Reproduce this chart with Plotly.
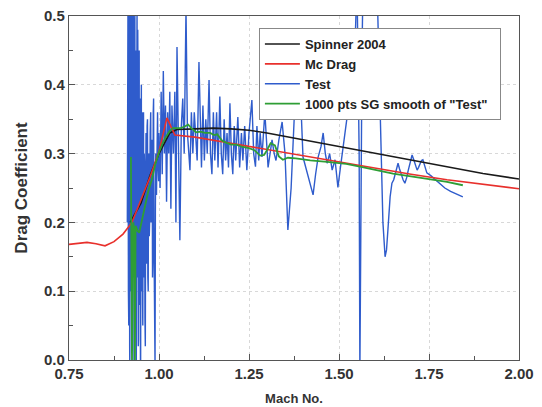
import plotly.graph_objects as go

# ---- data ----
spinner_mach = [0.92, 0.95, 0.975, 1.0, 1.03, 1.05, 1.10, 1.15, 1.20, 1.25, 1.30, 1.40, 1.50, 1.60, 1.70, 1.80, 1.90, 2.00]
spinner_cd = [0.200, 0.228, 0.268, 0.300, 0.330, 0.335, 0.336, 0.337, 0.336, 0.334, 0.330, 0.320, 0.310, 0.300, 0.290, 0.280, 0.271, 0.263]

mcdrag_mach = [0.75, 0.775, 0.80, 0.825, 0.85, 0.875, 0.90, 0.925, 0.95, 0.975, 1.0, 1.022, 1.044, 1.06, 1.10, 1.20, 1.30, 1.40, 1.50, 1.60, 1.70, 1.80, 1.90, 2.00]
mcdrag_cd = [0.168, 0.170, 0.171, 0.169, 0.166, 0.172, 0.183, 0.200, 0.232, 0.266, 0.303, 0.352, 0.327, 0.326, 0.324, 0.315, 0.306, 0.296, 0.287, 0.278, 0.270, 0.262, 0.255, 0.249]

test_mach = [
    0.912, 0.913, 0.914, 0.915, 0.916, 0.917, 0.918, 0.9185, 0.919, 0.920, 0.921, 0.9215, 0.922, 0.923,
    0.924, 0.9245, 0.925, 0.926, 0.927, 0.9275, 0.928, 0.929, 0.930, 0.9305, 0.931, 0.932, 0.933, 0.9335,
    0.934, 0.935, 0.936, 0.9365, 0.937, 0.938, 0.939, 0.9395, 0.940, 0.941, 0.942, 0.9425, 0.943, 0.944,
    0.945, 0.9455, 0.946, 0.947, 0.948, 0.9485, 0.949, 0.950, 0.951, 0.9515, 0.952, 0.953, 0.954, 0.9545,
    0.955, 0.956, 0.957, 0.9575, 0.958, 0.959, 0.960, 0.961, 0.962, 0.963, 0.964, 0.965, 0.966, 0.967,
    0.968, 0.969, 0.970, 0.971, 0.972, 0.973, 0.974, 0.9755, 0.977, 0.978, 0.979, 0.980, 0.981, 0.982,
    0.983, 0.984, 0.985, 0.986, 0.987, 0.988, 0.989, 0.990, 0.991, 0.992, 0.993, 0.9945, 0.996, 0.9975, 0.999,
    1.000, 1.003, 1.006, 1.009, 1.012, 1.015, 1.018, 1.021, 1.024, 1.027, 1.030, 1.033, 1.036, 1.040,
    1.044, 1.047, 1.050, 1.054, 1.058, 1.062, 1.066, 1.070, 1.075, 1.079, 1.083, 1.086, 1.090, 1.094,
    1.098, 1.102, 1.106, 1.111, 1.115, 1.118, 1.122, 1.126, 1.130, 1.134, 1.139, 1.143, 1.147, 1.151,
    1.155, 1.160, 1.164, 1.169, 1.173, 1.177, 1.181, 1.185, 1.189, 1.193, 1.197, 1.201, 1.205, 1.209,
    1.213, 1.219, 1.224, 1.229, 1.233, 1.238, 1.244, 1.250, 1.258, 1.263, 1.268, 1.272, 1.277, 1.281,
    1.286, 1.294, 1.303, 1.308, 1.314, 1.320, 1.325, 1.333, 1.342, 1.350, 1.358, 1.367, 1.378, 1.386,
    1.392, 1.400, 1.411, 1.419, 1.428, 1.435, 1.442, 1.450, 1.456, 1.462, 1.467, 1.474, 1.481, 1.489,
    1.497, 1.504, 1.511, 1.518, 1.525, 1.536, 1.544, 1.550, 1.556, 1.558, 1.561, 1.564, 1.567, 1.585,
    1.605, 1.608, 1.614, 1.622, 1.628, 1.632, 1.636, 1.642, 1.647, 1.652, 1.656, 1.660, 1.664, 1.668,
    1.672, 1.678, 1.683, 1.688, 1.692, 1.698, 1.703, 1.707, 1.711, 1.717, 1.721, 1.725, 1.729, 1.733,
    1.738, 1.744, 1.755, 1.767, 1.780, 1.794, 1.810, 1.828, 1.844]
test_cd = [
    0.20, 0.40, 0.55, 0.10, 0.05, 0.52, 0.45, 0.02, -0.02, 0.48, 0.52, 0.20, 0.10, 0.55,
    0.48, 0.05, 0.02, 0.40, 0.55, 0.12, 0.15, 0.50, 0.42, 0.00, -0.02, 0.35, 0.50, 0.15,
    0.08, 0.45, 0.38, 0.05, 0.00, 0.30, 0.52, 0.18, 0.12, 0.48, 0.35, 0.02, 0.03, 0.40,
    0.45, 0.08, 0.10, 0.38, 0.33, 0.00, -0.01, 0.30, 0.40, 0.10, 0.15, 0.36, 0.30, 0.08,
    0.05, 0.32, 0.36, 0.15, 0.12, 0.30, 0.28, 0.06, 0.02, 0.25, 0.33, 0.14, 0.18, 0.34,
    0.35, 0.12, 0.10, 0.28, 0.30, 0.18, 0.20, 0.33, 0.36, 0.20, 0.22, 0.30, 0.32, 0.12,
    0.15, 0.36, 0.38, 0.18, 0.05, 0.10, -0.01, 0.22, 0.30, 0.28, 0.24, 0.34, 0.36, 0.28, 0.26,
    0.33, 0.25, 0.39, 0.27, 0.42, 0.30, 0.37, 0.23, 0.36, 0.30, 0.39, 0.22, 0.37, 0.30,
    0.39, 0.20, 0.455, 0.32, 0.174, 0.34, 0.38, 0.30, 0.51, 0.33, 0.29, 0.276, 0.36, 0.30,
    0.36, 0.32, 0.29, 0.433, 0.33, 0.28, 0.37, 0.29, 0.35, 0.30, 0.407, 0.30, 0.27, 0.36,
    0.29, 0.36, 0.28, 0.383, 0.30, 0.27, 0.35, 0.29, 0.33, 0.28, 0.373, 0.30, 0.27, 0.34,
    0.29, 0.353, 0.28, 0.33, 0.29, 0.34, 0.276, 0.33, 0.378, 0.30, 0.281, 0.34, 0.29, 0.33,
    0.295, 0.360, 0.280, 0.300, 0.320, 0.300, 0.290, 0.320, 0.346, 0.300, 0.189, 0.250, 0.380, 0.420,
    0.400, 0.295, 0.272, 0.257, 0.240, 0.270, 0.295, 0.310, 0.330, 0.300, 0.286, 0.300, 0.276, 0.291,
    0.251, 0.280, 0.310, 0.340, 0.363, 0.378, 0.450, 0.550, 0.300, -0.020, 0.300, 0.450, 0.560, 0.600,
    0.560, 0.500, 0.350, 0.200, 0.150, 0.160, 0.190, 0.237, 0.257, 0.262, 0.270, 0.280, 0.286, 0.278,
    0.270, 0.262, 0.257, 0.265, 0.275, 0.290, 0.298, 0.292, 0.285, 0.276, 0.280, 0.285, 0.290, 0.291,
    0.283, 0.272, 0.268, 0.262, 0.256, 0.250, 0.245, 0.241, 0.237]

smooth_mach = [0.922, 0.924, 0.925, 0.927, 0.929, 0.931, 0.933, 0.935, 0.940, 0.945, 0.950, 0.960, 0.970,
               0.980, 0.990, 1.000, 1.010, 1.020, 1.030, 1.039, 1.050, 1.060, 1.070, 1.081, 1.090, 1.103,
               1.115, 1.128, 1.142, 1.153, 1.162, 1.175, 1.186, 1.200, 1.215, 1.230, 1.250, 1.265, 1.281,
               1.292, 1.300, 1.310, 1.322, 1.333, 1.344, 1.358, 1.380, 1.420, 1.467, 1.520, 1.558, 1.600,
               1.650, 1.700, 1.750, 1.800, 1.844]
smooth_cd = [0.295, 0.100, -0.010, 0.190, 0.200, 0.180, -0.010, 0.195, 0.188, 0.185, 0.198, 0.222, 0.245,
             0.262, 0.285, 0.302, 0.315, 0.325, 0.333, 0.337, 0.337, 0.337, 0.339, 0.342, 0.337, 0.331,
             0.332, 0.330, 0.330, 0.327, 0.328, 0.319, 0.316, 0.313, 0.313, 0.310, 0.308, 0.305, 0.297,
             0.298, 0.305, 0.315, 0.312, 0.296, 0.291, 0.294, 0.293, 0.290, 0.288, 0.285, 0.281, 0.276,
             0.271, 0.267, 0.263, 0.259, 0.254]

x_ticks = [0.75, 1.00, 1.25, 1.50, 1.75, 2.00]
y_ticks = [0.0, 0.1, 0.2, 0.3, 0.4, 0.5]

FONT = "Arial, Liberation Sans, sans-serif"

# ---- figure ----
fig = go.Figure()
fig.add_trace(go.Scatter(x=test_mach, y=test_cd, mode="lines", name="<b>Test</b>",
                         line=dict(color="#2f5ccc", width=1.4), legendrank=3))
fig.add_trace(go.Scatter(x=spinner_mach, y=spinner_cd, mode="lines", name="<b>Spinner 2004</b>",
                         line=dict(color="#1a1a1a", width=1.6), legendrank=1))
fig.add_trace(go.Scatter(x=mcdrag_mach, y=mcdrag_cd, mode="lines", name="<b>Mc Drag</b>",
                         line=dict(color="#e8302c", width=1.6), legendrank=2))
fig.add_trace(go.Scatter(x=smooth_mach, y=smooth_cd, mode="lines",
                         name='<b>1000 pts SG smooth of "Test"</b>&nbsp;&nbsp;',
                         line=dict(color="#2e9e35", width=1.8), legendrank=4))

axis_common = dict(
    showline=True, linecolor="#555555", linewidth=1.3, mirror=True,
    ticks="inside", ticklen=6, tickcolor="#555555", tickwidth=1.2,
    showgrid=True, gridcolor="#d8d8d8", griddash="dot", gridwidth=1,
    zeroline=False, automargin=False, ticklabeloverflow="allow",
    tickfont=dict(family=FONT, size=15, color="#333333"),
)

fig.update_xaxes(**axis_common, range=[0.75, 2.0], tickvals=x_ticks,
                 ticktext=[f"<b>{v:.2f}</b>" for v in x_ticks],
                 minor=dict(ticks="inside", ticklen=4, tickcolor="#555555", dtick=0.125, tick0=0.75,
                            showgrid=False),
                 title=dict(text="<b>Mach No.</b>", standoff=12,
                            font=dict(family=FONT, size=13, color="#333333")))
fig.update_yaxes(**axis_common, range=[0.0, 0.5], tickvals=y_ticks,
                 ticktext=[f"<b>{v:.1f}</b>" for v in y_ticks],
                 minor=dict(ticks="inside", ticklen=4, tickcolor="#555555", dtick=0.05, tick0=0,
                            showgrid=False),
                 title=dict(text="<b>Drag Coefficient</b>", standoff=12,
                            font=dict(family=FONT, size=17, color="#333333")))

# The page body has an 8px default margin, so the figure is sized to fill the
# remaining 534x399 area and the plot lands where it is in the reference.
fig.update_layout(
    width=534, height=399,
    margin=dict(l=61, r=23, t=8, b=47, autoexpand=False),
    paper_bgcolor="white", plot_bgcolor="white",
    font=dict(family=FONT, color="#333333"),
    legend=dict(x=0.422, y=0.965, xanchor="left", yanchor="top",
                bgcolor="white", bordercolor="#888888", borderwidth=1,
                font=dict(size=13, color="#222222", family=FONT),
                tracegroupgap=0, itemwidth=35),
    showlegend=True,
)

fig.write_html("out.html")
